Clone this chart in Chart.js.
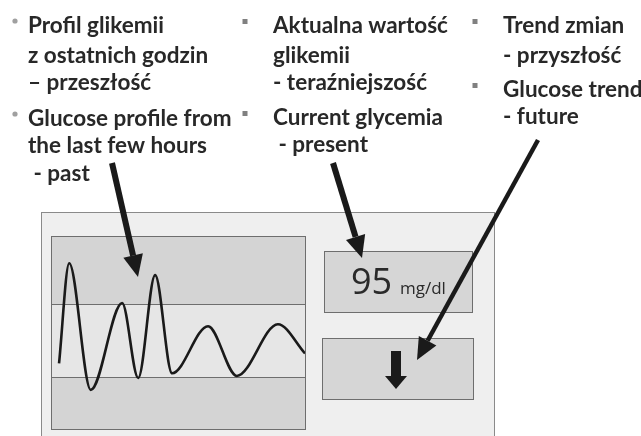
<!DOCTYPE html>
<html>
<head>
<meta charset="utf-8">
<script src="https://cdn.jsdelivr.net/npm/chart.js@4"></script>
<style>
  html, body { margin: 0; padding: 0; background: #fff; }
  canvas { display: block; }
</style>
</head>
<body>
<canvas id="cgm" width="641" height="436"></canvas>
<script>
// glucose trace of the last hours (schematic)
const waveHours   = [0.19, 0.43, 0.94, 1.68, 2.06, 2.46, 2.86, 3.71, 4.39, 5.36, 6.0];
const waveGlucose = [91, 242, 51, 182, 69, 224, 76, 147, 72, 150, 106];
const bandLimits  = [70, 180];          // target range, mg/dl
const currentValue = 95;
const currentUnit  = "mg/dl";

const col1 = [
  ["Profil glikemii", "z ostatnich godzin", "– przeszłość"],
  ["Glucose profile from", "the last few hours", " - past"]
];
const col2 = [
  ["Aktualna wartość", "glikemii", "- teraźniejszość"],
  ["Current glycemia", " - present"]
];
const col3 = [
  ["Trend zmian", "- przyszłość"],
  ["Glucose trend", "- future"]
];

const TEXT_FONT = "bold 22.5px Lato";
const INK = "#282828";

function arrow(ctx, x1, y1, x2, y2, w, headLen, headW) {
  const a = Math.atan2(y2 - y1, x2 - x1);
  const bx = x2 - Math.cos(a) * headLen, by = y2 - Math.sin(a) * headLen;
  ctx.save();
  ctx.strokeStyle = "#1a1a1a";
  ctx.fillStyle = "#1a1a1a";
  ctx.lineWidth = w;
  ctx.beginPath();
  ctx.moveTo(x1, y1);
  ctx.lineTo(bx, by);
  ctx.stroke();
  const nx = -Math.sin(a) * headW / 2, ny = Math.cos(a) * headW / 2;
  ctx.beginPath();
  ctx.moveTo(x2, y2);
  ctx.lineTo(bx + nx, by + ny);
  ctx.lineTo(bx - nx, by - ny);
  ctx.closePath();
  ctx.fill();
  ctx.restore();
}

function writeColumn(ctx, paras, x, baselines, bullet, bx) {
  ctx.font = TEXT_FONT;
  ctx.fillStyle = INK;
  ctx.textBaseline = "alphabetic";
  let k = 0;
  paras.forEach(lines => {
    const y0 = baselines[k];
    ctx.save();
    ctx.fillStyle = bullet === "dot" ? "#a0a0a0" : "#808080";
    if (bullet === "dot") {
      ctx.beginPath();
      ctx.arc(bx, y0 - 12, 2.6, 0, Math.PI * 2);
      ctx.fill();
    } else {
      ctx.fillRect(bx - 2.5, y0 - 14, 5, 5);
    }
    ctx.restore();
    lines.forEach(t => {
      ctx.fillText(t, x, baselines[k]);
      k++;
    });
  });
}

const panelPlugin = {
  id: "panel",
  beforeDraw(chart) {
    const ctx = chart.ctx;
    ctx.save();
    ctx.fillStyle = "#fff";
    ctx.fillRect(0, 0, chart.width, chart.height);
    // device frame
    ctx.fillStyle = "#efefef";
    ctx.fillRect(41.5, 212.5, 453, 240);
    ctx.strokeStyle = "#8a8a8a";
    ctx.lineWidth = 1;
    ctx.strokeRect(41.5, 212.5, 453, 240);
    // value box and trend box
    ctx.fillStyle = "#d6d6d6";
    ctx.strokeStyle = "#6e6e6e";
    ctx.fillRect(324.5, 251.5, 148, 61);
    ctx.strokeRect(324.5, 251.5, 148, 61);
    ctx.fillRect(322.5, 338.5, 151, 61);
    ctx.strokeRect(322.5, 338.5, 151, 61);
    ctx.restore();
  },
  beforeDatasetsDraw(chart) {
    const { ctx, chartArea: a, scales: { y } } = chart;
    const yLo = Math.round(y.getPixelForValue(bandLimits[0])) + 0.5;
    const yHi = Math.round(y.getPixelForValue(bandLimits[1])) + 0.5;
    ctx.save();
    ctx.fillStyle = "#d4d4d4";
    ctx.fillRect(a.left, a.top, a.width, a.height);
    ctx.fillStyle = "#e6e6e6";
    ctx.fillRect(a.left, yHi, a.width, yLo - yHi);
    ctx.strokeStyle = "#6e6e6e";
    ctx.lineWidth = 1;
    ctx.beginPath();
    ctx.moveTo(a.left, yHi); ctx.lineTo(a.right, yHi);
    ctx.moveTo(a.left, yLo); ctx.lineTo(a.right, yLo);
    ctx.stroke();
    ctx.strokeRect(a.left + 0.5, a.top + 0.5, a.width, a.height);
    ctx.restore();
  },
  afterDraw(chart) {
    const ctx = chart.ctx;
    ctx.save();
    // current value
    ctx.fillStyle = "#2a2a2a";
    ctx.textBaseline = "alphabetic";
    ctx.font = "36px 'Open Sans'";
    ctx.fillText(String(currentValue), 351, 294);
    ctx.font = "17px 'Open Sans'";
    ctx.fillText(currentUnit, 400, 294);
    // trend arrow (down)
    ctx.fillStyle = "#1a1a1a";
    ctx.fillRect(391, 351, 10, 27);
    ctx.beginPath();
    ctx.moveTo(385, 376);
    ctx.lineTo(407, 376);
    ctx.lineTo(396, 389);
    ctx.closePath();
    ctx.fill();

    // captions
    writeColumn(ctx, col1, 28, [33, 63, 90, 126, 153, 181], "dot", 15);
    writeColumn(ctx, col2, 273, [33, 63, 90, 125, 152], "sq", 245);
    writeColumn(ctx, col3, 503, [33, 63, 97, 124], "sq", 475);

    // pointers
    arrow(ctx, 112, 163, 138, 277, 6, 22, 20);
    arrow(ctx, 333, 163, 362, 258, 6, 22, 20);
    arrow(ctx, 538, 140, 417, 360, 4.5, 22, 20);
    ctx.restore();
  }
};

new Chart(document.getElementById("cgm"), {
  type: "line",
  data: {
    datasets: [{
      data: waveHours.map((h, i) => ({ x: h, y: waveGlucose[i] })),
      borderColor: "#1a1a1a",
      borderWidth: 2.6,
      pointRadius: 0,
      cubicInterpolationMode: "monotone",
      fill: false
    }]
  },
  options: {
    responsive: false,
    animation: false,
    devicePixelRatio: 1,
    layout: { padding: { left: 51, top: 236, right: 336, bottom: 7 } },
    plugins: { legend: { display: false }, tooltip: { enabled: false } },
    scales: {
      x: { type: "linear", min: 0, max: 6, display: false },
      y: { min: -8, max: 283, display: false }
    }
  },
  plugins: [panelPlugin]
});
</script>
</body>
</html>
